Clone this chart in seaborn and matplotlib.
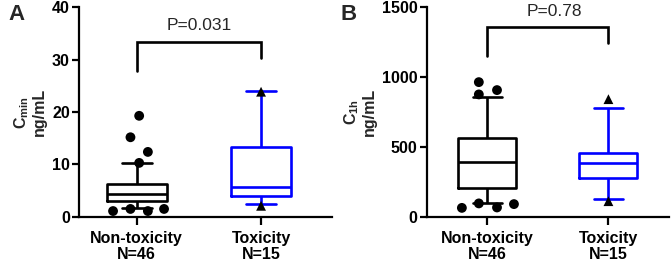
import matplotlib
matplotlib.use("Agg")
import matplotlib.pyplot as plt
import pandas as pd
import seaborn as sns

# Groups
groups = ["Non-toxicity", "Toxicity"]
n_patients = [46, 15]

# Panel A - Cmin (ng/mL): box = 25-75 %, whiskers = 10-90 %
cmin_p10 = [1.6, 2.5]
cmin_q1 = [3.0, 4.0]
cmin_med = [4.4, 5.7]
cmin_q3 = [6.2, 13.4]
cmin_p90 = [10.2, 24.0]
cmin_out_nontox = [19.3, 15.2, 12.4, 10.3, 1.1, 1.5, 1.1, 1.5]
cmin_out_tox = [23.9, 2.1]
cmin_pval = "P=0.031"

# Panel B - C1h (ng/mL)
c1h_p10 = [100, 131]
c1h_q1 = [203, 275]
c1h_med = [394, 387]
c1h_q3 = [566, 454]
c1h_p90 = [860, 781]
c1h_out_nontox = [965, 877, 908, 64, 96, 67, 91]
c1h_out_tox = [843, 112]
c1h_pval = "P=0.78"

# horizontal spread of outlier symbols (layout only)
cmin_spread = [0.02, -0.05, 0.09, 0.02, -0.19, -0.05, 0.09, 0.22]
c1h_spread = [-0.07, -0.07, 0.08, -0.21, -0.07, 0.08, 0.22]

colors = {"Non-toxicity": "black", "Toxicity": "#0000ff"}
markers = {"Non-toxicity": "o", "Toxicity": "^"}

sns.set_style("ticks")
plt.rcParams["font.family"] = ["Liberation Sans", "DejaVu Sans"]
plt.rcParams["font.weight"] = "bold"
plt.rcParams["mathtext.fontset"] = "custom"
plt.rcParams["mathtext.rm"] = "Liberation Sans:bold"
plt.rcParams["mathtext.bf"] = "Liberation Sans:bold"
plt.rcParams["mathtext.it"] = "Liberation Sans:bold"


def draw_panel(ax, p10, q1, med, q3, p90, out_nt, out_t, spread, yticks, ylim,
               ylabel, pval, bracket, xlim, text_x):
    rows = []
    for i, g in enumerate(groups):
        for v in (p10[i], q1[i], med[i], q3[i], p90[i]):
            rows.append({"pos": i, "group": g, "value": v})
    box_df = pd.DataFrame(rows)
    sns.boxplot(data=box_df, x="pos", y="value", hue="group", palette=colors,
                native_scale=True, fill=False, whis=(0, 100), width=0.48,
                linewidth=1.9, showfliers=False, dodge=False, legend=False, ax=ax)

    out_rows = [{"pos": 0 + s, "group": groups[0], "value": v} for v, s in zip(out_nt, spread)]
    out_rows += [{"pos": 1, "group": groups[1], "value": v} for v in out_t]
    out_df = pd.DataFrame(out_rows)
    sns.scatterplot(data=out_df, x="pos", y="value", style="group", markers=markers,
                    color="black", s=50, linewidth=0, legend=False, ax=ax,
                    zorder=4, clip_on=False)

    # significance bracket
    y_left, y_top, y_right, y_text = bracket
    ax.plot([0, 0, 1, 1], [y_left, y_top, y_top, y_right], color="black",
            lw=1.9, clip_on=False, solid_joinstyle="miter")
    ax.text(text_x, y_text, pval, ha="center", va="center", fontsize=12.5,
            fontweight="normal")

    ax.set_xlim(xlim)
    ax.set_ylim(ylim)
    ax.set_yticks(yticks)
    ax.set_xticks([0, 1])
    ax.set_xticklabels([f"{g}\nN={n}" for g, n in zip(groups, n_patients)],
                       fontweight="bold", linespacing=1.05)
    ax.set_xlabel("")
    ax.set_ylabel(ylabel, fontsize=11.5, fontweight="bold", labelpad=4, linespacing=1.05)
    sns.despine(ax=ax)
    for sp in ("left", "bottom"):
        ax.spines[sp].set_linewidth(1.6)
        ax.spines[sp].set_color("black")
    ax.tick_params(axis="both", width=1.6, length=5, color="black",
                   labelsize=11.5, labelcolor="black", pad=1.5)
    ax.tick_params(axis="x", length=6, pad=4.5)


fig = plt.figure(figsize=(6.71, 2.67), dpi=100)
ax1 = fig.add_axes([0.1177, 0.188, 0.377, 0.784])
ax2 = fig.add_axes([0.636, 0.188, 0.361, 0.784])

draw_panel(ax1, cmin_p10, cmin_q1, cmin_med, cmin_q3, cmin_p90,
           cmin_out_nontox, cmin_out_tox, cmin_spread,
           [0, 10, 20, 30, 40], (0, 40), "$\\mathbf{C_{min}}$\nng/mL",
           cmin_pval, (27.9, 33.4, 30.3, 36.5), (-0.464, 1.57), 0.5)
draw_panel(ax2, c1h_p10, c1h_q1, c1h_med, c1h_q3, c1h_p90,
           c1h_out_nontox, c1h_out_tox, c1h_spread,
           [0, 500, 1000, 1500], (0, 1500), "$\\mathbf{C_{1h}}$\nng/mL",
           c1h_pval, (1151, 1357, 1242, 1471), (-0.5, 1.5), 0.55)

fig.text(8 / 671, 1 - 15 / 267, "A", fontsize=16, fontweight="bold", va="center")
fig.text(341 / 671, 1 - 14 / 267, "B", fontsize=16, fontweight="bold", va="center")

fig.savefig("out.png", dpi=100)
